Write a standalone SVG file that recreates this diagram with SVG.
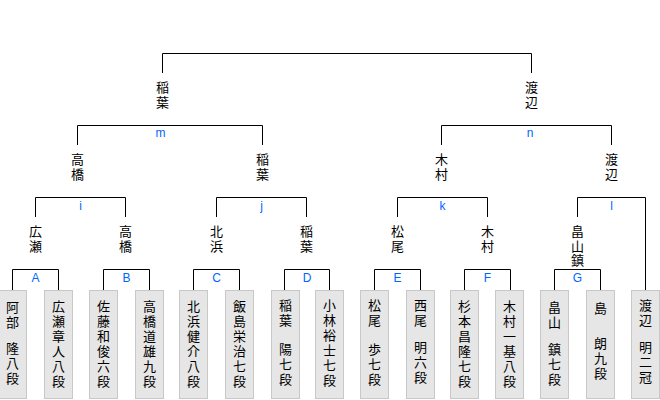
<svg xmlns="http://www.w3.org/2000/svg" width="660" height="400" viewBox="0 0 660 400">
<style>
  .bg { fill: #ffffff; }
  .ln { fill: none; stroke: #000000; stroke-width: 1; }
  .box { fill: #e6e6e6; stroke: #c8c8c8; stroke-width: 1; }
  .nm { font-family: "Noto Sans CJK JP", "Noto Sans CJK SC", sans-serif; font-size: 13px; fill: #000000; text-anchor: middle; }
  .lb { font-family: "Liberation Sans", "DejaVu Sans", sans-serif; font-size: 12px; fill: #0066ff; text-anchor: middle; }
</style>
<rect class="bg" x="0" y="0" width="660" height="400"/>

<g id="connectors">
  <path class="ln" d="M162.5 73 V53.5 H531.5 V73"/>
  <path class="ln" d="M77.5 145 V125.5 H262.5 V145"/>
  <path class="ln" d="M441.5 145 V125.5 H611.5 V145"/>
  <path class="ln" d="M35.5 217 V197.5 H125.5 V217"/>
  <path class="ln" d="M216.5 217 V197.5 H306.5 V217"/>
  <path class="ln" d="M397.5 217 V197.5 H487.5 V217"/>
  <path class="ln" d="M577.5 217 V197.5 H645.5 V290"/>
  <path class="ln" d="M12.5 290 V269.5 H58.5 V290"/>
  <path class="ln" d="M103.5 290 V269.5 H149.5 V290"/>
  <path class="ln" d="M193.5 290 V269.5 H239.5 V290"/>
  <path class="ln" d="M284.5 290 V269.5 H329.5 V290"/>
  <path class="ln" d="M374.5 290 V269.5 H420.5 V290"/>
  <path class="ln" d="M464.5 290 V269.5 H510.5 V290"/>
  <path class="ln" d="M554.5 290 V269.5 H600.5 V290"/>
  <text class="lb" x="160.5" y="137">m</text>
  <text class="lb" x="530" y="137">n</text>
  <text class="lb" x="80.5" y="210">i</text>
  <text class="lb" x="261.5" y="210">j</text>
  <text class="lb" x="442.5" y="210">k</text>
  <text class="lb" x="611.5" y="210">l</text>
  <text class="lb" x="35.5" y="281.5">A</text>
  <text class="lb" x="126.5" y="281.5">B</text>
  <text class="lb" x="216.5" y="281.5">C</text>
  <text class="lb" x="307" y="281.5">D</text>
  <text class="lb" x="397.5" y="281.5">E</text>
  <text class="lb" x="487.5" y="281.5">F</text>
  <text class="lb" x="577.5" y="281.5">G</text>
</g>

<g id="w-final-l"><text class="nm" x="162.5 162.5" y="92 107">稲葉</text></g>
<g id="w-final-r"><text class="nm" x="531.5 531.5" y="92 107">渡辺</text></g>
<g id="w-m-l"><text class="nm" x="77.5 77.5" y="163.5 178.5">高橋</text></g>
<g id="w-m-r"><text class="nm" x="262.5 262.5" y="163.5 178.5">稲葉</text></g>
<g id="w-n-l"><text class="nm" x="441.5 441.5" y="163.5 178.5">木村</text></g>
<g id="w-n-r"><text class="nm" x="611.5 611.5" y="163.5 178.5">渡辺</text></g>
<g id="w-i-l"><text class="nm" x="35.5 35.5" y="236 250.5">広瀬</text></g>
<g id="w-i-r"><text class="nm" x="125.5 125.5" y="236 250.5">高橋</text></g>
<g id="w-j-l"><text class="nm" x="216.5 216.5" y="236 250.5">北浜</text></g>
<g id="w-j-r"><text class="nm" x="306.5 306.5" y="236 250.5">稲葉</text></g>
<g id="w-k-l"><text class="nm" x="397.5 397.5" y="236 250.5">松尾</text></g>
<g id="w-k-r"><text class="nm" x="487.5 487.5" y="236 250.5">木村</text></g>
<g id="w-l-l"><text class="nm" x="577.5 577.5 577.5" y="236 250.5 265">畠山鎮</text></g>

<g id="p1"><rect class="box" x="-1.5" y="290.5" width="28" height="108"/><text class="nm" x="12.5 12.5 12.5 12.5 12.5 12.5" y="312 327 340 353 368 383">阿部 隆八段</text></g>
<g id="p2"><rect class="box" x="44.5" y="290.5" width="28" height="108"/><text class="nm" x="58.5 58.5 58.5 58.5 58.5 58.5" y="311 326 341 356 371 386">広瀬章人八段</text></g>
<g id="p3"><rect class="box" x="89.5" y="290.5" width="28" height="108"/><text class="nm" x="103.5 103.5 103.5 103.5 103.5 103.5" y="311 326 341 356 371 386">佐藤和俊六段</text></g>
<g id="p4"><rect class="box" x="135.5" y="290.5" width="28" height="108"/><text class="nm" x="149.5 149.5 149.5 149.5 149.5 149.5" y="311 326 341 356 371 386">高橋道雄九段</text></g>
<g id="p5"><rect class="box" x="179.5" y="290.5" width="28" height="108"/><text class="nm" x="193.5 193.5 193.5 193.5 193.5 193.5" y="311 326 341 356 371 386">北浜健介八段</text></g>
<g id="p6"><rect class="box" x="225.5" y="290.5" width="28" height="108"/><text class="nm" x="239.5 239.5 239.5 239.5 239.5 239.5" y="311 326 341 356 371 386">飯島栄治七段</text></g>
<g id="p7"><rect class="box" x="271.5" y="290.5" width="28" height="108"/><text class="nm" x="285.5 285.5 285.5 285.5 285.5 285.5" y="310 325 340 354 369 384">稲葉 陽七段</text></g>
<g id="p8"><rect class="box" x="315.5" y="290.5" width="28" height="108"/><text class="nm" x="329.5 329.5 329.5 329.5 329.5 329.5" y="310 325 340 355 370 385">小林裕士七段</text></g>
<g id="p9"><rect class="box" x="360.5" y="290.5" width="28" height="108"/><text class="nm" x="374.5 374.5 374.5 374.5 374.5 374.5" y="310 325 340 354 369 384">松尾 歩七段</text></g>
<g id="p10"><rect class="box" x="406.5" y="290.5" width="28" height="108"/><text class="nm" x="420.5 420.5 420.5 420.5 420.5 420.5" y="310 325 338 352 367 382">西尾 明六段</text></g>
<g id="p11"><rect class="box" x="450.5" y="290.5" width="28" height="108"/><text class="nm" x="464.5 464.5 464.5 464.5 464.5 464.5" y="311 326 341 356 371 386">杉本昌隆七段</text></g>
<g id="p12"><rect class="box" x="495.5" y="290.5" width="28" height="108"/><text class="nm" x="509.5 509.5 509.5 509.5 509.5 509.5" y="311 326 341 356 371 386">木村一基八段</text></g>
<g id="p13"><rect class="box" x="540.5" y="290.5" width="28" height="108"/><text class="nm" x="554.5 554.5 554.5 554.5 554.5 554.5" y="312 327 340 354 369 384">畠山 鎮七段</text></g>
<g id="p14"><rect class="box" x="586.5" y="290.5" width="28" height="108"/><text class="nm" x="600.5 600.5 600.5 600.5 600.5" y="313 330 348 363 378">島 朗九段</text></g>
<g id="p15"><rect class="box" x="631.5" y="290.5" width="28" height="108"/><text class="nm" x="645.5 645.5 645.5 645.5 645.5 645.5" y="310 325 338 352 367 382">渡辺 明二冠</text></g>
</svg>
